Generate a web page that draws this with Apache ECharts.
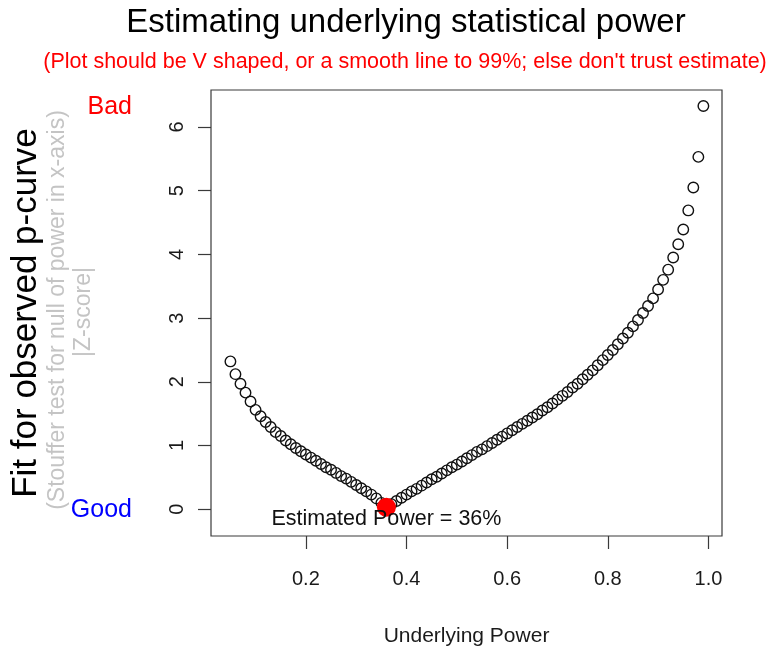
<!DOCTYPE html>
<html>
<head>
<meta charset="utf-8">
<script src="https://cdn.jsdelivr.net/npm/echarts@6/dist/echarts.min.js"></script>
<style>
html,body{margin:0;padding:0;background:#ffffff;}
#chart{width:772px;height:652px;}
</style>
</head>
<body>
<div id="chart"></div>
<script>
// ---- data ----
const powerLevels = [
  0.05,0.06,0.07,0.08,0.09,0.10,0.11,0.12,0.13,0.14,
  0.15,0.16,0.17,0.18,0.19,0.20,0.21,0.22,0.23,0.24,
  0.25,0.26,0.27,0.28,0.29,0.30,0.31,0.32,0.33,0.34,
  0.35,0.36,0.37,0.38,0.39,0.40,0.41,0.42,0.43,0.44,
  0.45,0.46,0.47,0.48,0.49,0.50,0.51,0.52,0.53,0.54,
  0.55,0.56,0.57,0.58,0.59,0.60,0.61,0.62,0.63,0.64,
  0.65,0.66,0.67,0.68,0.69,0.70,0.71,0.72,0.73,0.74,
  0.75,0.76,0.77,0.78,0.79,0.80,0.81,0.82,0.83,0.84,
  0.85,0.86,0.87,0.88,0.89,0.90,0.91,0.92,0.93,0.94,
  0.95,0.96,0.97,0.98,0.99
];
const fitZScores = [
  2.32,2.12,1.97,1.83,1.69,1.56,1.46,1.37,1.29,1.21,
  1.15,1.08,1.02,0.96,0.91,0.86,0.81,0.76,0.71,0.66,
  0.62,0.57,0.52,0.48,0.43,0.38,0.33,0.28,0.23,0.17,
  0.10,0.03,0.08,0.13,0.18,0.23,0.28,0.32,0.37,0.42,
  0.47,0.51,0.56,0.61,0.66,0.70,0.75,0.80,0.85,0.90,
  0.94,0.99,1.04,1.09,1.14,1.19,1.24,1.29,1.34,1.39,
  1.44,1.49,1.55,1.60,1.66,1.72,1.78,1.84,1.91,1.97,
  2.04,2.11,2.18,2.26,2.34,2.42,2.50,2.59,2.68,2.77,
  2.87,2.97,3.08,3.19,3.31,3.45,3.60,3.76,3.95,4.16,
  4.39,4.69,5.05,5.53,6.33
];
const estimatedPower = [0.36];
const estimatedFit = [0.03];
const xTickValues = [0.2, 0.4, 0.6, 0.8, 1.0];
const yTickValues = [0, 1, 2, 3, 4, 5, 6];

const titleText = 'Estimating underlying statistical power';
const subtitleText = "(Plot should be V shaped, or a smooth line to 99%; else don't trust estimate)";
const xAxisTitle = 'Underlying Power';
const yAxisTitle = 'Fit for observed p-curve';
const yAxisSub1 = '(Stouffer test for null of power in x-axis)';
const yAxisSub2 = '|Z-score|';
const badText = 'Bad';
const goodText = 'Good';
const estimateText = 'Estimated Power = ' + Math.round(estimatedPower[0] * 100) + '%';

// ---- chart ----
const FONT = '"Liberation Sans", Arial, Helvetica, sans-serif';
const chart = echarts.init(document.getElementById('chart'), null, {renderer: 'canvas'});

const curveData = powerLevels.map((p, i) => [p, fitZScores[i]]);
const estData = estimatedPower.map((p, i) => [p, estimatedFit[i]]);
const labelYOffset = -0.15;
const estLabelData = estimatedPower.map(p => [p, labelYOffset]);

chart.setOption({
  animation: false,
  backgroundColor: '#ffffff',
  grid: {
    left: 211, right: 50, top: 90, bottom: 116,
    show: true, borderColor: '#3a3a3a', borderWidth: 1.2, backgroundColor: 'transparent'
  },
  xAxis: {
    type: 'value',
    min: 0.0114, max: 1.027,
    axisLine: {show: false, onZero: false},
    splitLine: {show: false},
    axisTick: {show: true, inside: false, length: 13, customValues: xTickValues,
      lineStyle: {color: '#3a3a3a', width: 1.2}},
    axisLabel: {show: true, customValues: xTickValues, margin: 33,
      formatter: v => v.toFixed(1),
      fontFamily: FONT, fontSize: 20, color: '#1a1a1a'},
    name: xAxisTitle, nameLocation: 'middle', nameGap: 90,
    nameTextStyle: {fontFamily: FONT, fontSize: 21, color: '#1a1a1a'}
  },
  yAxis: {
    type: 'value',
    min: -0.42, max: 6.58,
    axisLine: {show: false, onZero: false},
    splitLine: {show: false},
    axisTick: {show: true, inside: false, length: 13, customValues: yTickValues,
      lineStyle: {color: '#3a3a3a', width: 1.2}},
    axisLabel: {show: true, customValues: yTickValues, rotate: 90, margin: 24,
      formatter: v => String(v),
      fontFamily: FONT, fontSize: 20, color: '#1a1a1a'},
    name: yAxisTitle, nameLocation: 'middle', nameRotate: 90, nameGap: 167,
    nameTextStyle: {fontFamily: FONT, fontSize: 35, color: '#000000'}
  },
  series: [
    {
      type: 'scatter', data: curveData, symbol: 'circle', symbolSize: 10.5,
      itemStyle: {color: 'rgba(0,0,0,0)', borderColor: '#111111', borderWidth: 1.4, opacity: 1},
      silent: true, z: 2
    },
    {
      type: 'scatter', data: estData, symbol: 'circle', symbolSize: 19,
      itemStyle: {color: '#ff0000', opacity: 1}, silent: true, z: 3
    },
    {
      type: 'scatter', data: estLabelData, symbolSize: 0,
      itemStyle: {opacity: 1},
      label: {show: true, position: 'inside', formatter: estimateText,
        fontFamily: FONT, fontSize: 21.5, color: '#111111'},
      silent: true, z: 4
    }
  ],
  graphic: [
    {type: 'text', x: 406, y: 23, silent: true,
      style: {text: titleText, fontFamily: FONT, fontSize: 33, fill: '#000000',
        textAlign: 'center', textVerticalAlign: 'middle'}},
    {type: 'text', x: 405, y: 62, silent: true,
      style: {text: subtitleText, fontFamily: FONT, fontSize: 21.5, fill: '#ff0000',
        textAlign: 'center', textVerticalAlign: 'middle'}},
    {type: 'text', x: 58, y: 310, rotation: Math.PI / 2, silent: true,
      style: {text: yAxisSub1, fontFamily: FONT, fontSize: 23, fill: '#c4c4c4',
        textAlign: 'center', textVerticalAlign: 'middle'}},
    {type: 'text', x: 84, y: 312, rotation: Math.PI / 2, silent: true,
      style: {text: yAxisSub2, fontFamily: FONT, fontSize: 23, fill: '#c4c4c4',
        textAlign: 'center', textVerticalAlign: 'middle'}},
    {type: 'text', x: 132, y: 107, silent: true,
      style: {text: badText, fontFamily: FONT, fontSize: 25, fill: '#ff0000',
        textAlign: 'right', textVerticalAlign: 'middle'}},
    {type: 'text', x: 132, y: 510, silent: true,
      style: {text: goodText, fontFamily: FONT, fontSize: 25, fill: '#0000ff',
        textAlign: 'right', textVerticalAlign: 'middle'}}
  ]
});
</script>
</body>
</html>
